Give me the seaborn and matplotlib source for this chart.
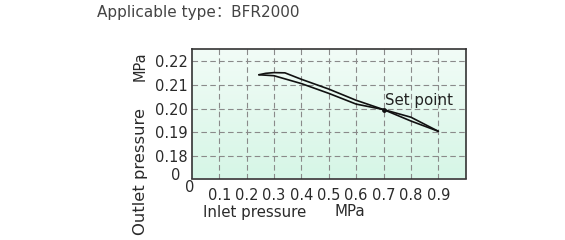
import numpy as np
import pandas as pd
import matplotlib
matplotlib.use("Agg")
import matplotlib.pyplot as plt
from matplotlib.colors import LinearSegmentedColormap
import seaborn as sns

# data
curve1_x = [0.245, 0.27, 0.30, 0.34, 0.40, 0.50, 0.60, 0.70, 0.80, 0.90]
curve1_y = [0.2142, 0.2148, 0.2151, 0.2150, 0.2123, 0.2082, 0.2035, 0.1996, 0.1948, 0.1905]
curve2_x = [0.245, 0.30, 0.40, 0.50, 0.60, 0.70, 0.80, 0.90]
curve2_y = [0.2142, 0.2138, 0.2105, 0.2064, 0.2019, 0.1996, 0.1964, 0.1905]
set_point_x = [0.70]
set_point_y = [0.1996]
y_ticks = [0.18, 0.19, 0.20, 0.21, 0.22]
y_tick_labels = ["0.18", "0.19", "0.20", "0.21", "0.22"]
x_ticks = [0.1, 0.2, 0.3, 0.4, 0.5, 0.6, 0.7, 0.8, 0.9]
x_tick_labels = ["0.1", "0.2", "0.3", "0.4", "0.5", "0.6", "0.7", "0.8", "0.9"]

sns.set_style("white")
plt.rcParams['font.family'] = ['DejaVu Sans']

W, H = 565, 240
fig = plt.figure(figsize=(W / 100, H / 100), dpi=100)
ax = fig.add_axes([191.8 / W, 1 - 178.5 / H, (465.7 - 191.8) / W, (178.5 - 49) / H])

ymin, ymax = 0.1707, 0.2250
ax.set_xlim(0, 1.0)
ax.set_ylim(ymin, ymax)

# gradient background
cmap = LinearSegmentedColormap.from_list("g", ["#d6f6e6", "#f2fcf7"])
grad = np.linspace(0, 1, 256).reshape(-1, 1)
ax.imshow(grad, extent=[0, 1, ymin, ymax], aspect="auto", origin="lower",
          cmap=cmap, zorder=0)

# grid
for xv in x_ticks:
    ax.axvline(xv, color="#8a8a8a", lw=0.8, ls=(0, (5, 3)), zorder=1)
for yv in y_ticks:
    ax.axhline(yv, color="#8a8a8a", lw=0.8, ls=(0, (5, 3)), zorder=1)

df = pd.concat([
    pd.DataFrame({"x": curve1_x, "y": curve1_y, "c": "a"}),
    pd.DataFrame({"x": curve2_x, "y": curve2_y, "c": "b"}),
])
sns.lineplot(data=df, x="x", y="y", units="c", estimator=None, sort=False,
             color="#111111", lw=1.2, ax=ax, zorder=3)
sns.scatterplot(x=set_point_x, y=set_point_y, color="#111111", s=12,
                linewidth=0, ax=ax, zorder=4)
ax.text(0.707, 0.2033, "Set point", fontsize=10.8, color="#222222",
        va="center", ha="left", zorder=5)

TXT = "#2a2a2a"
ax.set_xticks(x_ticks)
ax.set_xticklabels(x_tick_labels)
ax.set_yticks(y_ticks)
ax.set_yticklabels(y_tick_labels)
ax.tick_params(axis="both", length=0, labelsize=10.5, colors=TXT)
ax.tick_params(axis="x", pad=6.5)
ax.tick_params(axis="y", pad=3)
ax.set_xlabel("")
ax.set_ylabel("")

for s in ax.spines.values():
    s.set_color("#333333")
    s.set_linewidth(1.2)
    s.set_visible(True)

# separate zero labels
fig.text(176 / W, 1 - 175 / H, "0", fontsize=10.5, ha="center", va="center", color=TXT)
fig.text(190 / W, 1 - 187 / H, "0", fontsize=10.5, ha="center", va="center", color=TXT)

# axis labels
fig.text(203 / W, 1 - 212 / H, "Inlet pressure", fontsize=10.8, ha="left", va="center", color=TXT)
fig.text(335 / W, 1 - 212 / H, "MPa", fontsize=10.8, ha="left", va="center", color=TXT)
fig.text(140 / W, 1 - 235 / H, "Outlet pressure", fontsize=11.8, rotation=90,
         ha="center", va="bottom", color=TXT)
fig.text(140 / W, 1 - 51 / H, "MPa", fontsize=10.5, rotation=90,
         ha="center", va="top", color=TXT)

# title
fig.text(97 / W, 1 - 13 / H, "Applicable type：BFR2000", fontsize=11, ha="left",
         va="center", color="#444444",
         family=['DejaVu Sans', 'Noto Sans CJK SC'])

fig.savefig("out.png", dpi=100)
